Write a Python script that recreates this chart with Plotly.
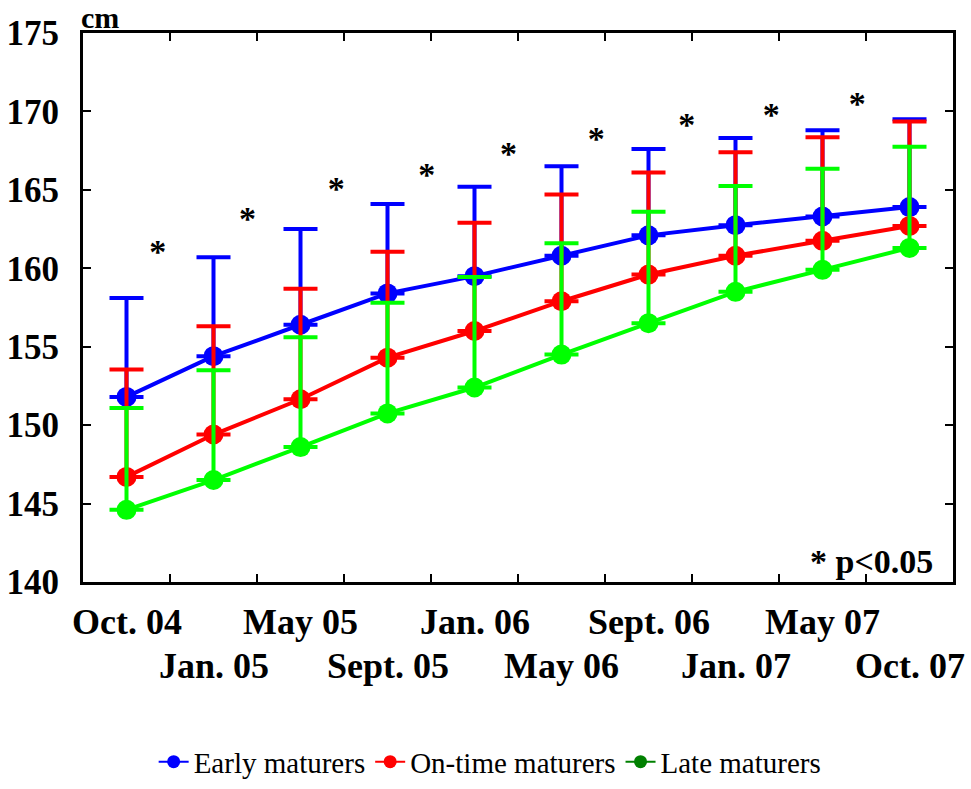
import plotly.graph_objects as go

# ---- data ----
time_labels = ["Oct. 04", "Jan. 05", "May 05", "Sept. 05", "Jan. 06",
               "May 06", "Sept. 06", "Jan. 07", "May 07", "Oct. 07"]

early_mean = [151.8, 154.4, 156.4, 158.4, 159.5, 160.8, 162.1, 162.75, 163.3, 163.9]
early_upper = [158.1, 160.7, 162.5, 164.1, 165.2, 166.5, 167.6, 168.3, 168.8, 169.5]

ontime_mean = [146.7, 149.4, 151.65, 154.3, 156.0, 157.9, 159.6, 160.8, 161.75, 162.7]
ontime_upper = [153.55, 156.3, 158.7, 161.05, 162.9, 164.7, 166.1, 167.4, 168.35, 169.35]

late_mean = [144.6, 146.5, 148.6, 150.75, 152.4, 154.5, 156.5, 158.5, 159.9, 161.3]
late_upper = [151.1, 153.5, 155.6, 157.8, 159.45, 161.6, 163.6, 165.25, 166.35, 167.75]

# significance asterisks (between consecutive measurements)
star_x = [0.36, 1.39, 2.41, 3.45, 4.39, 5.4, 6.44, 7.41, 8.4]
star_y = [160.9, 163.0, 164.9, 165.8, 167.1, 168.1, 169.0, 169.6, 170.3]

y_ticks = [140, 145, 150, 155, 160, 165, 170, 175]

series = [
    ("Early maturers", early_mean, early_upper, "#0000FF", "#0000FF"),
    ("On-time maturers", ontime_mean, ontime_upper, "#FF0000", "#FF0000"),
    ("Late maturers", late_mean, late_upper, "#00FF00", "#008000"),
]

x_idx = list(range(len(time_labels)))
serif = "Liberation Serif, Times New Roman, serif"

fig = go.Figure()

for name, mean, upper, color, legend_color in series:
    err_plus = [u - m for u, m in zip(upper, mean)]
    fig.add_trace(go.Scatter(
        x=x_idx, y=mean, mode="lines+markers", name=name, showlegend=False,
        line=dict(color=color, width=4),
        marker=dict(color=color, size=20),
        error_y=dict(type="data", symmetric=False, array=err_plus,
                     arrayminus=[0] * len(mean), color=color,
                     thickness=4, width=17),
    ))

# legend-only entries
for name, mean, upper, color, legend_color in series:
    fig.add_trace(go.Scatter(
        x=[None], y=[None], mode="lines+markers", name=name,
        line=dict(color=legend_color, width=2),
        marker=dict(color=legend_color, size=13),
    ))

fig.add_trace(go.Scatter(
    x=star_x, y=star_y, mode="text", text=["<b>*</b>"] * len(star_x),
    textposition="middle center", showlegend=False,
    textfont=dict(family=serif, size=34, color="black"),
))

# x tick labels in two staggered rows
for i, lab in enumerate(time_labels):
    fig.add_annotation(
        x=i, y=0, xref="x", yref="paper", text="<b>%s</b>" % lab,
        showarrow=False, xanchor="center", yanchor="top",
        yshift=-18 if i % 2 == 0 else -62,
        font=dict(family=serif, size=36, color="black"),
    )

fig.add_annotation(
    x=-0.0046, y=0.995, xref="paper", yref="paper", text="<b>cm</b>",
    showarrow=False, xanchor="left", yanchor="bottom",
    font=dict(family=serif, size=30, color="black"),
)
fig.add_annotation(
    x=0.979, y=0.0, xref="paper", yref="paper", text="<b>* p<0.05</b>",
    showarrow=False, xanchor="right", yanchor="bottom",
    font=dict(family=serif, size=34, color="black"),
)

fig.update_layout(
    width=971, height=789,
    margin=dict(l=83, r=18, t=33, b=207, autoexpand=False),
    paper_bgcolor="white", plot_bgcolor="white",
    font=dict(family=serif, color="black"),
    showlegend=True,
    legend=dict(orientation="h", x=0.468, xanchor="center", y=-0.374,
                yanchor="bottom", font=dict(family=serif, size=29, color="black"),
                bgcolor="rgba(0,0,0,0)"),
    xaxis=dict(range=[-0.5, 9.5], tickmode="array",
               tickvals=[i + 0.5 for i in range(len(time_labels) - 1)],
               showticklabels=False, ticks="inside", ticklen=8, tickwidth=2,
               tickcolor="black", showline=True, linecolor="black", linewidth=3,
               mirror="ticks", showgrid=False, zeroline=False),
    yaxis=dict(range=[140, 175], tickmode="array", tickvals=y_ticks,
               ticktext=["<b>%d</b>" % v for v in y_ticks],
               ticks="inside", ticklen=8, tickwidth=2, tickcolor="black",
               showline=True, linecolor="black", linewidth=3, mirror="ticks",
               showgrid=False, zeroline=False, ticklabelstandoff=14,
               tickfont=dict(family=serif, size=35, color="black")),
)

fig.write_html("out.html")
